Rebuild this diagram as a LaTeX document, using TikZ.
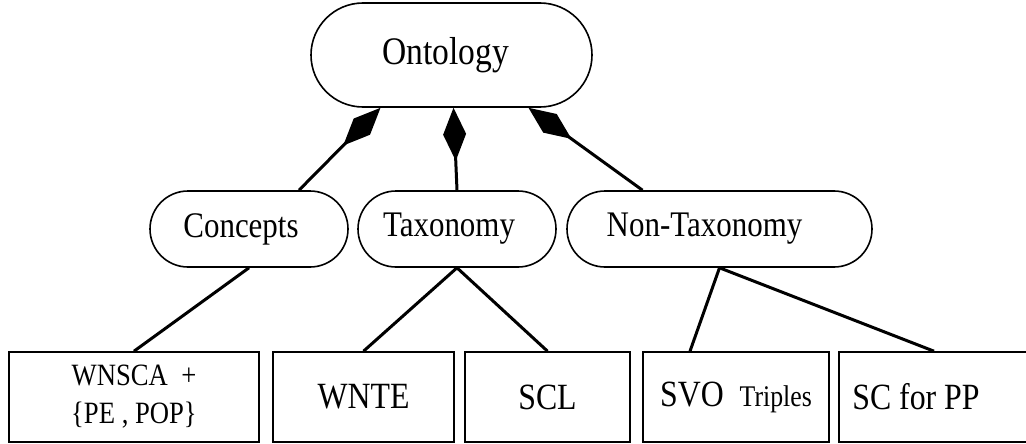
\documentclass[tikz,border=0pt]{standalone}
\usepackage{fontspec}
\setmainfont{Liberation Serif}[FakeStretch=0.86]
\usetikzlibrary{arrows.meta,shapes.misc}

\tikzset{
	pill/.style={draw, rounded rectangle, line width=1.6pt, inner sep=0pt, minimum height=76pt, font=\fontsize{36}{40}\selectfont},
	leaf/.style={draw, line width=1.6pt, inner sep=0pt, minimum height=90pt, align=center, font=\fontsize{37}{40}\selectfont},
	part/.style={line width=3pt, {Diamond[length=53pt,width=23pt]}-},
	link/.style={line width=3pt}
}

\begin{document}
\begin{tikzpicture}[x=1pt, y=-1pt]
		%%%%% START %%%%%
		\useasboundingbox (0, 0) rectangle (1026, 444);
		
		\node[pill, minimum width=281pt, minimum height=104pt, font=\fontsize{39}{42}\selectfont] (onto) at (451.5, 55) {Ontology\hspace*{12pt}};
		
		\node[pill, minimum width=198pt] (conc) at (249, 229) {Concepts\hspace*{16pt}};
		\node[pill, minimum width=198pt] (taxo) at (457, 229) {Taxonomy\hspace*{16pt}};
		\node[pill, minimum width=305pt] (ntax) at (719.5, 229) {Non-Taxonomy\hspace*{30pt}};
		
		\node[leaf, minimum width=250pt, font=\fontsize{31}{38}\selectfont] (wnsca) at (134, 397) {WNSCA\ \ +\\\{PE , POP\}};
		\node[leaf, minimum width=181pt] (wnte) at (363.5, 397) {WNTE};
		\node[leaf, minimum width=165pt] (scl) at (547.5, 397) {SCL};
		\node[leaf, minimum width=186pt] (svo) at (736, 397) {SVO\ \ {\fontsize{30}{34}\selectfont Triples}};
		\node[leaf, minimum width=190pt] (scpp) at (934, 397) {SC for PP\hspace*{36pt}};
		
		\draw[part] ([xshift=-71pt]onto.south) -- ([xshift=50pt]conc.north);
		\draw[part] ([xshift=2pt]onto.south) -- (taxo.north);
		\draw[part] ([xshift=77pt]onto.south) -- ([xshift=-77pt]ntax.north);
		
		\draw[link] (conc.south) -- (wnsca.north);
		\draw[link] (taxo.south) -- (wnte.north);
		\draw[link] (taxo.south) -- (scl.north);
		\draw[link] (ntax.south) -- ([xshift=-46pt]svo.north);
		\draw[link] (ntax.south) -- (scpp.north);
		%%%%% END %%%%%
\end{tikzpicture}
\end{document}
